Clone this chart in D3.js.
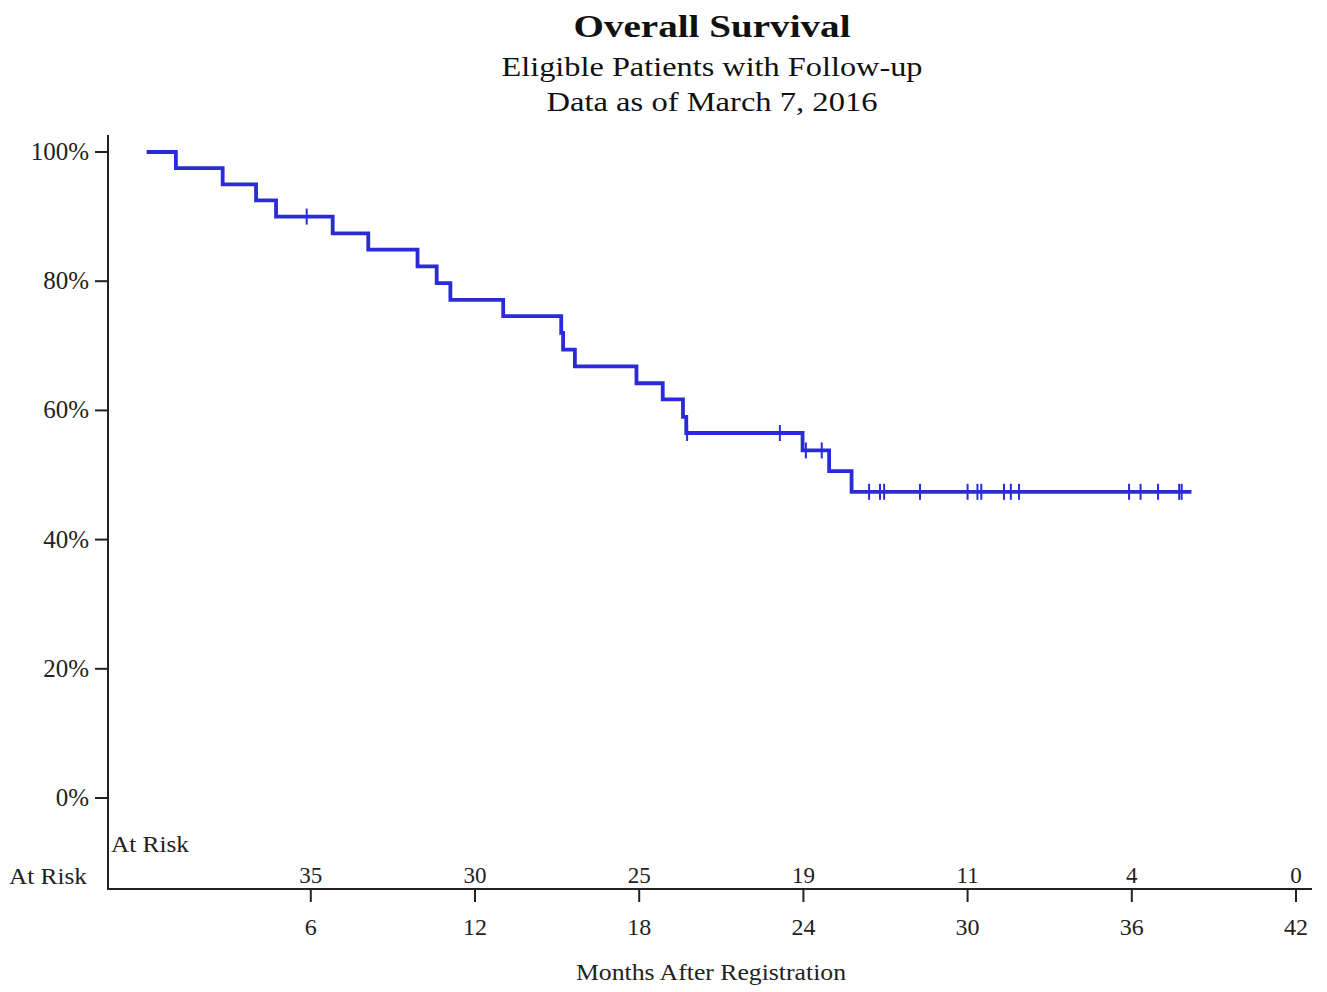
<!DOCTYPE html>
<html>
<head>
<meta charset="utf-8">
<script src="https://cdn.jsdelivr.net/npm/d3@7"></script>
<style>
  body { margin: 0; background: #fff; }
  text { font-family: "Liberation Serif", "Times New Roman", serif; fill: #222; }
</style>
</head>
<body>
<svg id="chart" width="1327" height="992"></svg>
<script>
// step times (months) and survival right after each step
var stepTimes = [0, 1.07, 2.78, 4.0, 4.73, 6.8, 8.1, 9.9, 10.6, 11.1, 13.03, 15.15, 15.22, 15.65, 17.9, 18.86, 19.6, 19.72, 23.97, 24.94, 25.76];
var stepSurv  = [1.0, 0.975, 0.95, 0.925, 0.90, 0.874, 0.849, 0.823, 0.797, 0.771, 0.746, 0.720, 0.694, 0.668, 0.642, 0.617, 0.590, 0.565, 0.538, 0.506, 0.474];
var endTime = 38.18;

// censored patients
var censorTimes = [5.85, 19.75, 23.14, 24.09, 24.67, 26.4, 26.8, 26.95, 28.26, 30.0, 30.36, 30.5, 31.33, 31.58, 31.88, 35.9, 36.32, 36.96, 37.73, 37.82];
var censorSurv  = [0.90, 0.565, 0.565, 0.538, 0.538, 0.474, 0.474, 0.474, 0.474, 0.474, 0.474, 0.474, 0.474, 0.474, 0.474, 0.474, 0.474, 0.474, 0.474, 0.474];

var xTicks = [6, 12, 18, 24, 30, 36, 42];
var atRisk = [35, 30, 25, 19, 11, 4, 0];
var yTicks = [0, 0.2, 0.4, 0.6, 0.8, 1.0];

var titleLines = ["Overall Survival", "Eligible Patients with Follow-up", "Data as of March 7, 2016"];

var svg = d3.select("#chart");

var x = d3.scaleLinear().domain([0, 42]).range([146.6, 1296]);
var y = d3.scaleLinear().domain([0, 1]).range([798, 152]);

var axisX = 108, axisY = 889;

// titles
var titleY = [37, 76, 111];
var titleSize = [32, 28, 28];
var titleW = [277, 421, 331];
titleLines.forEach(function(t, i) {
  svg.append("text")
    .attr("x", 712).attr("y", titleY[i])
    .attr("text-anchor", "middle")
    .attr("textLength", titleW[i])
    .attr("lengthAdjust", "spacingAndGlyphs")
    .style("font-size", titleSize[i] + "px")
    .style("font-weight", i == 0 ? "bold" : "normal")
    .style("fill", "#111")
    .text(t);
});

// y axis
svg.append("line")
  .attr("x1", axisX).attr("x2", axisX)
  .attr("y1", 135).attr("y2", axisY + 1)
  .attr("stroke", "#222").attr("stroke-width", 2);

var yg = svg.append("g");
yg.selectAll("line").data(yTicks).enter().append("line")
  .attr("x1", 95).attr("x2", axisX)
  .attr("y1", function(d) { return y(d); })
  .attr("y2", function(d) { return y(d); })
  .attr("stroke", "#222").attr("stroke-width", 2);
yg.selectAll("text").data(yTicks).enter().append("text")
  .attr("x", 89)
  .attr("y", function(d) { return y(d) + 8; })
  .attr("text-anchor", "end")
  .style("font-size", "25px")
  .text(function(d) { return d3.format(".0%")(d); });

// x axis
svg.append("line")
  .attr("x1", axisX - 1).attr("x2", 1312)
  .attr("y1", axisY).attr("y2", axisY)
  .attr("stroke", "#222").attr("stroke-width", 2);

var xg = svg.append("g");
xg.selectAll("line").data(xTicks).enter().append("line")
  .attr("x1", function(d) { return x(d); })
  .attr("x2", function(d) { return x(d); })
  .attr("y1", axisY).attr("y2", 902)
  .attr("stroke", "#222").attr("stroke-width", 2);
xg.selectAll("text.tick").data(xTicks).enter().append("text")
  .attr("class", "tick")
  .attr("x", function(d) { return x(d); })
  .attr("y", 935)
  .attr("text-anchor", "middle")
  .style("font-size", "24px")
  .text(function(d) { return d; });

// at risk numbers
xg.selectAll("text.risk").data(atRisk).enter().append("text")
  .attr("class", "risk")
  .attr("x", function(d, i) { return x(xTicks[i]); })
  .attr("y", 883)
  .attr("text-anchor", "middle")
  .style("font-size", "23px")
  .text(function(d) { return d; });

svg.append("text").attr("x", 111).attr("y", 852)
  .attr("textLength", 78).attr("lengthAdjust", "spacingAndGlyphs")
  .style("font-size", "24px").text("At Risk");
svg.append("text").attr("x", 9).attr("y", 884)
  .attr("textLength", 78).attr("lengthAdjust", "spacingAndGlyphs")
  .style("font-size", "24px").text("At Risk");

svg.append("text").attr("x", 711).attr("y", 980)
  .attr("text-anchor", "middle")
  .attr("textLength", 270)
  .attr("lengthAdjust", "spacingAndGlyphs")
  .style("font-size", "24px")
  .text("Months After Registration");

// survival curve
var pts = stepTimes.map(function(t, i) { return [t, stepSurv[i]]; });
pts.push([endTime, stepSurv[stepSurv.length - 1]]);

var line = d3.line()
  .x(function(d) { return x(d[0]); })
  .y(function(d) { return y(d[1]); })
  .curve(d3.curveStepAfter);

svg.append("path")
  .datum(pts)
  .attr("d", line)
  .attr("fill", "none")
  .attr("stroke", "#2a2ad8")
  .attr("stroke-width", 3.8);

// censor marks
svg.selectAll("line.censor").data(censorTimes).enter().append("line")
  .attr("class", "censor")
  .attr("x1", function(d) { return x(d); })
  .attr("x2", function(d) { return x(d); })
  .attr("y1", function(d, i) { return y(censorSurv[i]) - 8; })
  .attr("y2", function(d, i) { return y(censorSurv[i]) + 8; })
  .attr("stroke", "#2a2ad8")
  .attr("stroke-width", 2);
</script>
</body>
</html>
